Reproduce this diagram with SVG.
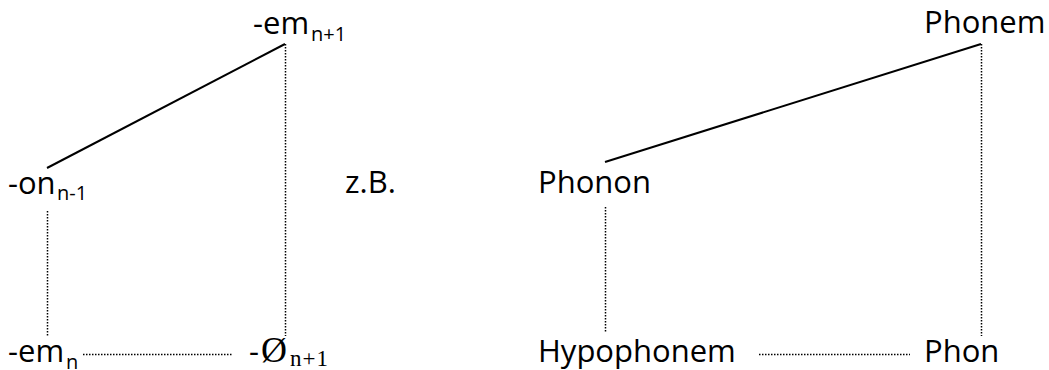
<svg xmlns="http://www.w3.org/2000/svg" width="1049" height="370" viewBox="0 0 1049 370">
<style>
.t{font-family:"Open Sans","Liberation Sans",sans-serif;font-size:31px;fill:#000}
.s{font-family:"Open Sans","Liberation Sans",sans-serif;font-size:20px;fill:#000}
.m{font-family:"Liberation Serif","DejaVu Serif",serif;fill:#000}
.solid{stroke:#000;stroke-width:2;fill:none}
.dot{stroke:#000;stroke-width:1.5;stroke-dasharray:1.5 1.5;fill:none}
</style>
<rect width="1049" height="370" fill="#fff"/>
<g id="connectors">
<line class="solid" x1="47" y1="168" x2="285" y2="44"/>
<line class="dot" x1="285.5" y1="44" x2="285.5" y2="336"/>
<line class="dot" x1="47.5" y1="211" x2="47.5" y2="337"/>
<line class="dot" x1="83" y1="354.5" x2="233" y2="354.5"/>
<line class="solid" x1="605" y1="162" x2="981" y2="44"/>
<line class="dot" x1="981.5" y1="44" x2="981.5" y2="336"/>
<line class="dot" x1="605.5" y1="207" x2="605.5" y2="332"/>
<line class="dot" x1="759" y1="354.5" x2="910" y2="354.5"/>
</g>
<g id="em-n1"><text class="t" x="253" y="34">-em</text><text class="s" x="311" y="41">n+1</text></g>
<g id="on-n-1"><text class="t" x="8" y="194">-on</text><text class="s" x="57" y="200">n-1</text></g>
<g id="em-n"><text class="t" x="8" y="362">-em</text><text class="s" x="66" y="369">n</text></g>
<g id="null-n1"><text class="t" x="249" y="362">-</text><text class="m" x="261" y="362" font-size="36">Ø</text><text class="m" x="290" y="366" font-size="23" letter-spacing="1">n+1</text></g>
<g id="zb"><text class="t" x="345" y="193">z.B.</text></g>
<g id="phonem"><text class="t" x="924" y="33">Phonem</text></g>
<g id="phonon"><text class="t" x="538" y="193">Phonon</text></g>
<g id="hypophonem"><text class="t" x="538" y="362">Hypophonem</text></g>
<g id="phon"><text class="t" x="924" y="362">Phon</text></g>
</svg>
